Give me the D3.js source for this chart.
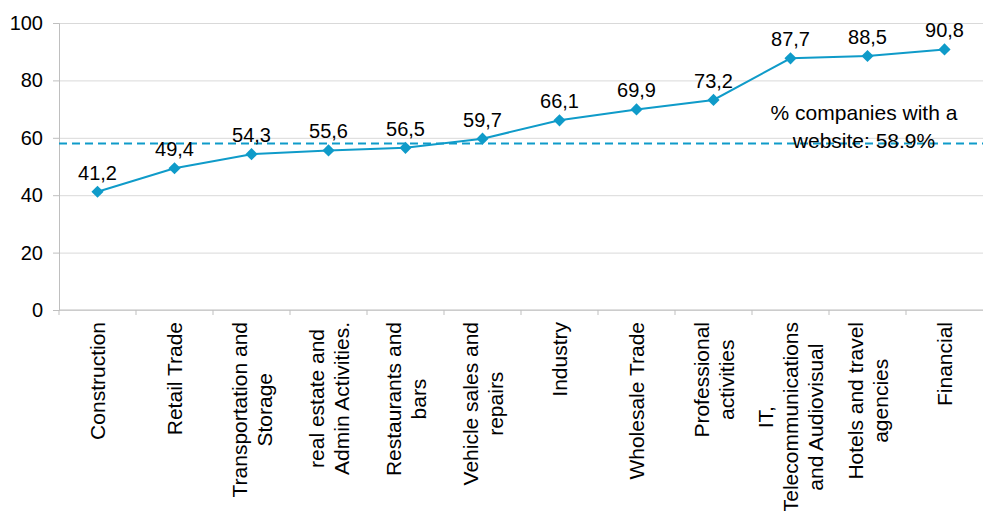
<!DOCTYPE html>
<html>
<head>
<meta charset="utf-8">
<script src="https://cdn.jsdelivr.net/npm/d3@7"></script>
<style>
  body { margin: 0; background: #fff; }
  svg { display: block; font-family: "Liberation Sans", Arial, sans-serif; }
</style>
</head>
<body>
<div id="chart"></div>
<script>
// sectors (each entry = label lines), values in %
const categories = [
  ['Construction'],
  ['Retail Trade'],
  ['Transportation and', 'Storage'],
  ['real estate and', 'Admin Activities.'],
  ['Restaurants and', 'bars'],
  ['Vehicle sales and', 'repairs'],
  ['Industry'],
  ['Wholesale Trade'],
  ['Professional', 'activities'],
  ['IT,', 'Telecommunications', 'and Audiovisual'],
  ['Hotels and travel', 'agencies'],
  ['Financial']
];
const values = [41.2, 49.4, 54.3, 55.6, 56.5, 59.7, 66.1, 69.9, 73.2, 87.7, 88.5, 90.8];
const yTicks = [0, 20, 40, 60, 80, 100];
const averageValue = 58;
const averageLabel = ['% companies with a', 'website: 58.9%'];

const width = 983;
const height = 511;
const margin = { top: 23, right: 0, bottom: 201, left: 59 };
const innerW = width - margin.left - margin.right;
const innerH = height - margin.top - margin.bottom;
const blue = '#0f9bc9';

const svg = d3.select('#chart').append('svg')
  .attr('width', width)
  .attr('height', height);
const g = svg.append('g').attr('transform', `translate(${margin.left},${margin.top})`);

const x = d3.scaleBand().domain(d3.range(categories.length)).range([0, innerW]);
const y = d3.scaleLinear().domain([0, 100]).range([innerH, 0]);

// grid lines
g.append('g')
  .call(d3.axisLeft(y).tickValues(yTicks).tickSize(-innerW).tickFormat(''))
  .call(a => a.select('.domain').remove())
  .selectAll('line').attr('stroke', '#d9d9d9').attr('stroke-width', 1);

// y axis
const yAxis = g.append('g')
  .call(d3.axisLeft(y).tickValues(yTicks).tickSize(6).tickPadding(10));
yAxis.select('.domain').attr('stroke', '#bfbfbf');
yAxis.selectAll('.tick line').attr('stroke', '#bfbfbf');
yAxis.selectAll('.tick text')
  .attr('font-size', 20)
  .attr('fill', '#000')
  .attr('font-family', '"Liberation Sans", Arial, sans-serif');

// x axis: ticks between categories
const xAxis = g.append('g').attr('transform', `translate(0,${innerH})`);
xAxis.append('line')
  .attr('x1', 0).attr('x2', innerW)
  .attr('stroke', '#bfbfbf');
xAxis.selectAll('line.tk')
  .data(d3.range(categories.length))
  .join('line')
  .attr('class', 'tk')
  .attr('x1', d => x(d)).attr('x2', d => x(d))
  .attr('y1', 0).attr('y2', 5)
  .attr('stroke', '#bfbfbf');

// category labels, rotated, lines centred on each other
const lineGap = 25;
categories.forEach((lines, i) => {
  const cx = x(i) + x.bandwidth() / 2;
  const grp = xAxis.append('g');
  const texts = lines.map(t => grp.append('text')
    .attr('text-anchor', 'middle')
    .attr('dominant-baseline', 'central')
    .attr('font-size', 21)
    .attr('fill', '#000')
    .text(t));
  const maxLen = d3.max(texts, t => t.node().getComputedTextLength());
  const cy = 12 + maxLen / 2;
  texts.forEach((t, j) => {
    const off = (j - (lines.length - 1) / 2) * lineGap;
    t.attr('transform', `translate(${cx + off},${cy}) rotate(-90)`);
  });
});

// average dashed line
g.append('line')
  .attr('x1', 0).attr('x2', innerW)
  .attr('y1', y(averageValue)).attr('y2', y(averageValue))
  .attr('stroke', blue)
  .attr('stroke-width', 2)
  .attr('stroke-dasharray', '8 5');

const note = g.append('text')
  .attr('font-size', 21)
  .attr('fill', '#000')
  .attr('text-anchor', 'middle');
averageLabel.forEach((t, j) => {
  note.append('tspan')
    .attr('x', 864 - margin.left)
    .attr('y', 120 - margin.top + j * 28)
    .text(t);
});

// series line
const line = d3.line()
  .x((d, i) => x(i) + x.bandwidth() / 2)
  .y(d => y(d));
g.append('path')
  .datum(values)
  .attr('fill', 'none')
  .attr('stroke', blue)
  .attr('stroke-width', 2)
  .attr('d', line);

// diamond markers
const diamond = d3.symbol().type(d3.symbolSquare).size(74);
g.selectAll('path.marker')
  .data(values)
  .join('path')
  .attr('class', 'marker')
  .attr('d', diamond)
  .attr('fill', blue)
  .attr('transform', (d, i) => `translate(${x(i) + x.bandwidth() / 2},${y(d)}) rotate(45)`);

// data labels
const fmt = v => d3.format('.1f')(v).replace('.', ',');
g.selectAll('text.val')
  .data(values)
  .join('text')
  .attr('class', 'val')
  .attr('x', (d, i) => x(i) + x.bandwidth() / 2)
  .attr('y', d => y(d) - 12)
  .attr('text-anchor', 'middle')
  .attr('font-size', 20)
  .attr('fill', '#000')
  .text(fmt);
</script>
</body>
</html>
